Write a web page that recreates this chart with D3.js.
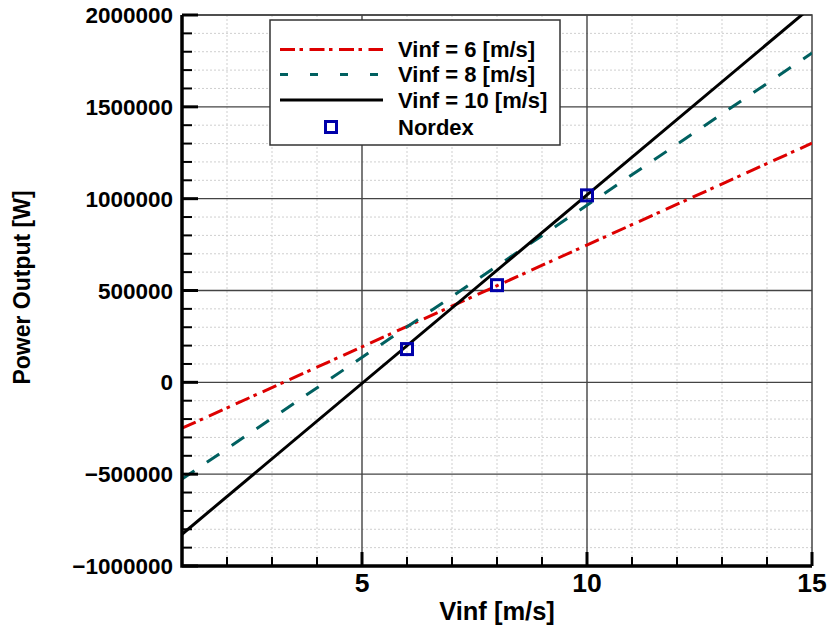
<!DOCTYPE html>
<html>
<head>
<meta charset="utf-8">
<script src="https://cdn.jsdelivr.net/npm/d3@7"></script>
<style>
  html, body { margin: 0; padding: 0; background: #fff; }
  svg { display: block; font-family: "Liberation Sans", Arial, sans-serif; font-weight: bold; }
</style>
</head>
<body>
<svg id="chart" width="829" height="627"></svg>
<script>
// Wind speed range of the straight-line fits
const windSpeeds = [1, 15];
// Power output [W] at each end of the range, per design wind speed
const powerVinf6 = [-250000, 1302000];
const powerVinf8 = [-527000, 1793000];
const powerVinf10 = [-827000, 2047000];
// Manufacturer reference points
const nordexSpeeds = [6, 8, 10];
const nordexPower = [181000, 529000, 1018000];
// Axis ticks
const xTickLabels = [5, 10, 15];
const yTickLabels = [-1000000, -500000, 0, 500000, 1000000, 1500000, 2000000];
const seriesNames = ["Vinf = 6 [m/s]", "Vinf = 8 [m/s]", "Vinf = 10 [m/s]", "Nordex"];

const svg = d3.select("#chart");
const L = 182, R = 812, T = 15, B = 566;

const x = d3.scaleLinear().domain([1, 15]).range([L, R]);
const y = d3.scaleLinear().domain([-1000000, 2000000]).range([B, T]);

svg.append("defs").append("clipPath").attr("id", "plotClip")
  .append("rect").attr("x", L).attr("y", T).attr("width", R - L).attr("height", B - T);

// minor grid (dotted)
const xMinor = d3.range(2, 15, 1).filter(v => v % 5 !== 0);
const yMinor = d3.range(-900000, 2000000, 100000).filter(v => v % 500000 !== 0);
const grid = svg.append("g");
grid.selectAll(".vmin").data(xMinor).enter().append("line")
  .attr("x1", d => x(d)).attr("x2", d => x(d)).attr("y1", T).attr("y2", B)
  .attr("stroke", "#cfcfcf").attr("stroke-width", 1).attr("stroke-dasharray", "2,2");
grid.selectAll(".hmin").data(yMinor).enter().append("line")
  .attr("x1", L).attr("x2", R).attr("y1", d => y(d)).attr("y2", d => y(d))
  .attr("stroke", "#cfcfcf").attr("stroke-width", 1).attr("stroke-dasharray", "2,2");
// major grid (solid)
grid.selectAll(".vmaj").data([5, 10]).enter().append("line")
  .attr("x1", d => x(d)).attr("x2", d => x(d)).attr("y1", T).attr("y2", B)
  .attr("stroke", "#333").attr("stroke-width", 1.3);
grid.selectAll(".hmaj").data(yTickLabels.filter(v => v > -1000000)).enter().append("line")
  .attr("x1", L).attr("x2", R).attr("y1", d => y(d)).attr("y2", d => y(d))
  .attr("stroke", "#444").attr("stroke-width", 1.3);
// frame top/right
svg.append("path").attr("d", `M${L},${T}H${R}V${B}`).attr("fill", "none")
  .attr("stroke", "#444").attr("stroke-width", 1.5);

// series lines
const series = [
  { vals: powerVinf6, color: "#dd0000", dash: "15,4.5,3.5,6.5" },
  { vals: powerVinf8, color: "#006060", dash: "15,15" },
  { vals: powerVinf10, color: "#000000", dash: null }
];
const line = d3.line().x(d => x(d[0])).y(d => y(d[1]));
const lines = svg.append("g").attr("clip-path", "url(#plotClip)");
series.forEach(s => {
  lines.append("path")
    .datum(windSpeeds.map((w, i) => [w, s.vals[i]]))
    .attr("d", line).attr("fill", "none")
    .attr("stroke", s.color).attr("stroke-width", 3)
    .attr("stroke-dasharray", s.dash);
});

// Nordex markers
svg.append("g").selectAll("rect").data(nordexSpeeds.map((w, i) => [w, nordexPower[i]]))
  .enter().append("rect")
  .attr("x", d => x(d[0]) - 5.5).attr("y", d => y(d[1]) - 5.5)
  .attr("width", 11).attr("height", 11)
  .attr("fill", "none").attr("stroke", "#0000aa").attr("stroke-width", 3);

// axes: left and bottom, ticks pointing inside
const yAxis = svg.append("g");
yAxis.selectAll(".ymin").data(yMinor).enter().append("line")
  .attr("x1", L).attr("x2", L + 10).attr("y1", d => y(d)).attr("y2", d => y(d))
  .attr("stroke", "#000").attr("stroke-width", 2);
yAxis.selectAll(".ymaj").data(yTickLabels).enter().append("line")
  .attr("x1", L).attr("x2", L + 16).attr("y1", d => y(d)).attr("y2", d => y(d))
  .attr("stroke", "#000").attr("stroke-width", 3);
yAxis.selectAll("text").data(yTickLabels).enter().append("text")
  .attr("x", L - 9).attr("y", d => y(d)).attr("dy", "0.36em")
  .attr("text-anchor", "end").attr("font-size", 22.5)
  .text(d => d3.format("d")(d));

const xAxis = svg.append("g");
xAxis.selectAll(".xmin").data(xMinor).enter().append("line")
  .attr("x1", d => x(d)).attr("x2", d => x(d)).attr("y1", B).attr("y2", B - 9)
  .attr("stroke", "#000").attr("stroke-width", 2);
xAxis.selectAll(".xmaj").data(xTickLabels).enter().append("line")
  .attr("x1", d => x(d)).attr("x2", d => x(d)).attr("y1", B).attr("y2", B - 14)
  .attr("stroke", "#000").attr("stroke-width", 3);
xAxis.selectAll("text").data(xTickLabels).enter().append("text")
  .attr("x", d => x(d)).attr("y", 592)
  .attr("text-anchor", "middle").attr("font-size", 26.5)
  .text(d => d);

svg.append("path").attr("d", `M${L},${T}V${B}H${R}`).attr("fill", "none")
  .attr("stroke", "#000").attr("stroke-width", 3.5);

// axis titles
svg.append("text").attr("x", (L + R) / 2).attr("y", 620)
  .attr("text-anchor", "middle").attr("font-size", 25.5).text("Vinf [m/s]");
svg.append("text").attr("transform", `translate(30,${(T + B) / 2 - 3}) rotate(-90)`)
  .attr("text-anchor", "middle").attr("font-size", 23).text("Power Output [W]");

// legend
const lg = svg.append("g");
lg.append("rect").attr("x", 270).attr("y", 20).attr("width", 290).attr("height", 125)
  .attr("fill", "#fff").attr("stroke", "#333").attr("stroke-width", 1.5);
const rowY = [49.5, 74.5, 100, 127];
const legendDash = ["15,4.5,3.5,6.5", "8,22", null];
series.forEach((s, i) => {
  lg.append("line").attr("x1", 280).attr("x2", 383).attr("y1", rowY[i]).attr("y2", rowY[i])
    .attr("stroke", s.color).attr("stroke-width", 3).attr("stroke-dasharray", legendDash[i]);
});
lg.append("rect").attr("x", 331 - 5.5).attr("y", rowY[3] - 5.5).attr("width", 11).attr("height", 11)
  .attr("fill", "none").attr("stroke", "#0000aa").attr("stroke-width", 3);
seriesNames.forEach((n, i) => {
  lg.append("text").attr("x", 398).attr("y", rowY[i]).attr("dy", "0.36em")
    .attr("font-size", 22).text(n);
});
</script>
</body>
</html>
